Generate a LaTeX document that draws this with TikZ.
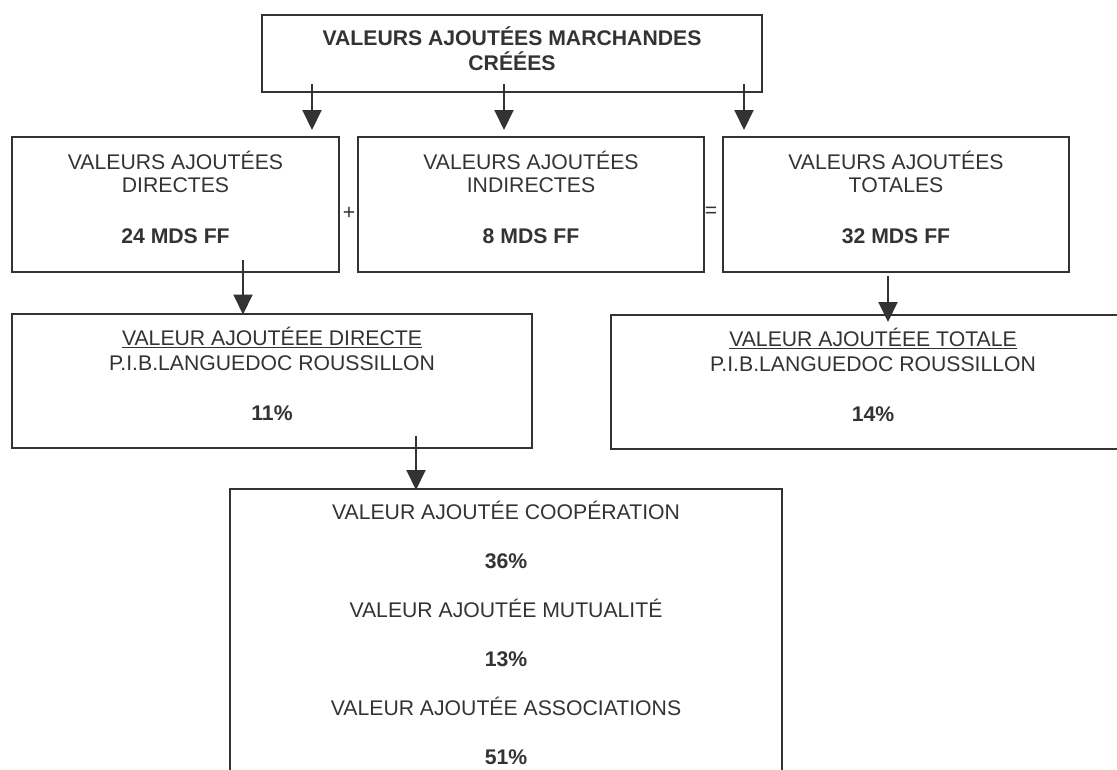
\documentclass[tikz,border=0pt]{standalone}
\usepackage{fontspec}
\setmainfont{Liberation Sans}
\usetikzlibrary{arrows.meta}
\definecolor{trait}{HTML}{333333}
\newcommand{\creux}[1]{\rule[-#1]{0pt}{#1}}
\tikzset{
  fleche/.style={draw=trait, line width=2pt,
    -{Triangle[length=20pt,width=19pt]}}
  }

\begin{document}
\begin{tikzpicture}[
    x=1pt, y=-1pt,
    nodes={draw=trait, line width=2pt, text=trait, align=center,
        inner sep=0pt, font=\fontsize{21.2}{24}\selectfont},
    tete/.style={%
        minimum width=500pt, minimum height=77pt,
        font=\fontsize{21.2}{25}\selectfont\bfseries},
    rang/.style={%
        minimum height=135pt,
        font=\fontsize{21.2}{23}\selectfont},
    pib/.style={%
        minimum height=134pt,
        font=\fontsize{21.2}{25}\selectfont},
    signe/.style={draw=none},
]
\useasboundingbox (0,0) rectangle (1117,769);
\clip (0,0) rectangle (1117,769);
     %Valeurs marchandes
    \node[tete] (cree) at (512,53.5) {VALEURS AJOUTÉES MARCHANDES\\CRÉÉES\creux{10pt}};
     %Valeurs ajoutees
    \node[rang, minimum width=327pt] (dir) at (175.5,204.5)
        {VALEURS AJOUTÉES\\DIRECTES\\[28pt]\textbf{24 MDS FF}\creux{15pt}};
    \node[rang, minimum width=346pt] (ind) at (531,204.5)
        {VALEURS AJOUTÉES\\INDIRECTES\\[28pt]\textbf{8 MDS FF}\creux{15pt}};
    \node[rang, minimum width=346pt] (tot) at (896,204.5)
        {VALEURS AJOUTÉES\\TOTALES\\[28pt]\textbf{32 MDS FF}\creux{15pt}};
    \node[signe] (plus) at (349,213) {+};
    \node[signe] (egal) at (711,212) {=};
     %P.I.B.
    \node[pib, minimum width=520pt] (pibdir) at (272,380.5)
        {\underline{VALEUR AJOUTÉEE DIRECTE}\\P.I.B.LANGUEDOC ROUSSILLON\\[25pt]\textbf{11\%}\creux{14pt}};
    \node[pib, minimum width=524pt] (pibtot) at (873,382)
        {\underline{VALEUR AJOUTÉEE TOTALE}\\P.I.B.LANGUEDOC ROUSSILLON\\[25pt]\textbf{14\%}\creux{14pt}};
     %Economie sociale
    \node[minimum width=552pt, minimum height=287pt] (eco) at (506,632.5)
        {VALEUR AJOUTÉE COOPÉRATION\\[25pt]\textbf{36\%}\\[25pt]
         VALEUR AJOUTÉE MUTUALITÉ\\[25pt]\textbf{13\%}\\[25pt]
         VALEUR AJOUTÉE ASSOCIATIONS\\[25pt]\textbf{51\%}};

    \draw[fleche] ([yshift=9pt]cree.south -| 312,0) -- ([yshift=6pt]dir.north -| 312,0);
    \draw[fleche] ([yshift=9pt]cree.south -| 504,0) -- ([yshift=6pt]ind.north -| 504,0);
    \draw[fleche] ([yshift=9pt]cree.south -| 744,0) -- ([yshift=6pt]tot.north -| 744,0);
    \draw[fleche] ([yshift=13pt]dir.south -| 243,0) -- ([yshift=-2pt]pibdir.north -| 243,0);
    \draw[fleche] ([yshift=-3pt]tot.south -| 888,0) -- ([yshift=-8pt]pibtot.north -| 888,0);
    \draw[fleche] ([yshift=13pt]pibdir.south -| 416,0) -- ([yshift=-2pt]eco.north -| 416,0);
\end{tikzpicture}
\end{document}
